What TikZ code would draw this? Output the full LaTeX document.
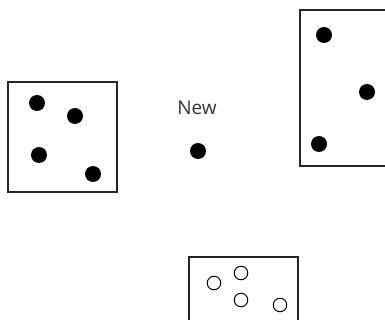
\documentclass[tikz,border=0pt]{standalone}
\usepackage{fontspec}
\newfontfamily\labelfont{Open Sans}
\tikzset{
  point/.style={circle, fill=black, inner sep=0pt, minimum size=16pt},
  newpoint/.style={circle, draw=black, line width=1pt, inner sep=0pt, minimum size=13.5pt},
  cluster/.style={draw=black!85, line width=1.4pt}
}
\begin{document}
\begin{tikzpicture}[x=1pt, y=-1pt]
  \useasboundingbox (0, 0) rectangle (385, 320);
  % clusters
  \draw[cluster] (8, 82) rectangle (117, 192);
  \draw[cluster] (300, 10) rectangle (400, 166);
  \draw[cluster] (189, 257) rectangle (298, 330);
  % left cluster
  \node[point] (A1) at (37, 103) {};
  \node[point] (A2) at (75, 116) {};
  \node[point] (A3) at (39, 155) {};
  \node[point] (A4) at (93, 174) {};
  % right cluster
  \node[point] (B1) at (324, 35) {};
  \node[point] (B2) at (367, 92) {};
  \node[point] (B3) at (319, 144) {};
  % new point
  \node[point] (N) at (198, 151) {};
  \node[font=\labelfont\fontsize{19}{22}\selectfont, text=black!80] (L) at (197, 108) {New};
  % bottom cluster
  \node[newpoint] (C1) at (214, 283) {};
  \node[newpoint] (C2) at (241, 273) {};
  \node[newpoint] (C3) at (241, 300) {};
  \node[newpoint] (C4) at (280, 305) {};
\end{tikzpicture}
\end{document}
